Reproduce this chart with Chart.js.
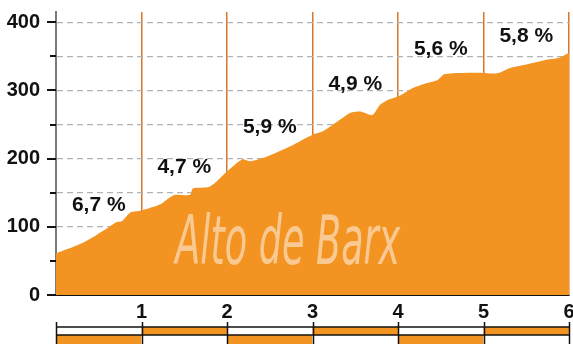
<!DOCTYPE html>
<html>
<head>
<meta charset="utf-8">
<script src="https://cdn.jsdelivr.net/npm/chart.js@4/dist/chart.umd.min.js"></script>
<style>
  html, body { margin: 0; padding: 0; background: #fff; }
  #wrap { width: 573px; height: 344px; }
</style>
</head>
<body>
<div id="wrap"><canvas id="profileChart" width="573" height="344"></canvas></div>
<script>
// Perfil del puerto: distancia (km) y altitud (m)
const distKm = [0, 0.32, 0.60, 0.71, 0.77, 0.87, 1.0, 1.22, 1.33, 1.39, 1.57, 1.60, 1.80,
                2.0, 2.18, 2.27, 2.47, 2.74, 3.0, 3.12, 3.32, 3.44, 3.56, 3.70, 3.79, 3.88,
                4.0, 4.18, 4.34, 4.46, 4.55, 4.96, 5.16, 5.31, 5.46, 5.74, 5.86, 6.0];
const elevM = [61, 77, 98, 107, 108, 121, 124, 133, 143, 147, 147, 156, 159,
               181, 199, 196, 203, 218, 235, 240, 257, 267, 269, 264, 279, 286,
               291, 304, 311, 315, 324, 326, 325, 333, 337, 345, 347, 355];
// pendiente media de cada kilómetro
const gradeLabels = ['6,7 %', '4,7 %', '5,9 %', '4,9 %', '5,6 %', '5,8 %'];
const climbName = 'Alto de Barx';

const ORANGE = '#f39322';
const KM_LINE = '#d8762c';
const FONT = "'Liberation Sans', Arial, sans-serif";

function elevAt(km) {
    for (let i = 1; i < distKm.length; i++) {
        if (km <= distKm[i]) {
            const t = (km - distKm[i - 1]) / (distKm[i] - distKm[i - 1]);
            return elevM[i - 1] + t * (elevM[i] - elevM[i - 1]);
        }
    }
    return elevM[elevM.length - 1];
}

const profileDecor = {
    id: 'profileDecor',
    afterDatasetsDraw(chart) {
        // nombre del puerto en marca de agua
        const { ctx, scales: { x, y } } = chart;
        ctx.save();
        ctx.font = "italic 68px 'Liberation Sans Narrow', 'DejaVu Sans Condensed', sans-serif";
        const w = ctx.measureText(climbName).width;
        const sx = 225 / w;
        ctx.translate(x.getPixelForValue(2.71), y.getPixelForValue(45));
        ctx.scale(sx, 1);
        ctx.fillStyle = 'rgba(255,255,255,0.5)';
        ctx.textAlign = 'center';
        ctx.textBaseline = 'alphabetic';
        ctx.fillText(climbName, 0, 0);
        ctx.restore();
    },
    afterDraw(chart) {
        const { ctx, scales: { x, y } } = chart;
        ctx.save();

        // marcas del eje Y: largas cada 100, cortas cada 50
        ctx.strokeStyle = '#111';
        ctx.lineWidth = 2;
        y.ticks.forEach(t => {
            const py = Math.round(y.getPixelForValue(t.value));
            const len = t.value % 100 === 0 ? 9 : 6;
            ctx.beginPath();
            ctx.moveTo(x.left - len, py);
            ctx.lineTo(x.left, py);
            ctx.stroke();
        });

        // pendientes por kilómetro
        ctx.fillStyle = '#111';
        ctx.font = 'bold 21px ' + FONT;
        ctx.textAlign = 'center';
        ctx.textBaseline = 'middle';
        gradeLabels.forEach((txt, k) => {
            const km = k + 0.5;
            ctx.fillText(txt, x.getPixelForValue(km), y.getPixelForValue(elevAt(km)) - 28);
        });

        // barra kilométrica inferior
        const top = 327, mid = 335, bottom = 352;
        const n = gradeLabels.length;
        for (let k = 0; k < n; k++) {
            const x0 = x.getPixelForValue(k);
            const x1 = x.getPixelForValue(k + 1);
            ctx.fillStyle = k % 2 ? ORANGE : '#fff';
            ctx.fillRect(x0, top, x1 - x0, mid - top);
            ctx.fillStyle = k % 2 ? '#fff' : ORANGE;
            ctx.fillRect(x0, mid, x1 - x0, bottom - mid);
        }
        ctx.strokeStyle = '#111';
        ctx.lineWidth = 1.5;
        const xa = x.getPixelForValue(0), xb = x.getPixelForValue(n);
        [top, mid].forEach(py => {
            ctx.beginPath();
            ctx.moveTo(xa, py);
            ctx.lineTo(xb, py);
            ctx.stroke();
        });
        for (let k = 0; k <= n; k++) {
            const px = Math.round(x.getPixelForValue(k)) + 0.5;
            ctx.beginPath();
            ctx.moveTo(px, 322);
            ctx.lineTo(px, bottom);
            ctx.stroke();
        }
        ctx.restore();
    }
};

const ctx = document.getElementById('profileChart').getContext('2d');
const profileChart = new Chart(ctx, {
    type: 'line',
    data: {
        datasets: [{
            data: distKm.map((d, i) => ({ x: d, y: elevM[i] })),
            backgroundColor: ORANGE,
            borderWidth: 0,
            pointRadius: 0,
            fill: 'origin',
            tension: 0.25
        }]
    },
    options: {
        responsive: false,
        animation: false,
        layout: { padding: { left: 0, top: 12, right: 4, bottom: 15 } },
        plugins: { legend: { display: false }, tooltip: { enabled: false } },
        scales: {
            x: {
                type: 'linear',
                min: 0,
                max: 6,
                z: 1,
                afterFit: s => { s.paddingLeft = 0; s.paddingRight = 0; },
                ticks: {
                    stepSize: 1,
                    padding: 5,
                    color: '#111',
                    font: { family: FONT, size: 20, weight: 'bold' },
                    callback: v => v === 0 ? '' : v
                },
                grid: {
                    color: c => c.tick && c.tick.value > 0 ? KM_LINE : 'rgba(0,0,0,0)',
                    lineWidth: 1.5,
                    drawTicks: false
                },
                border: { color: '#111', width: 2 }
            },
            y: {
                min: 0,
                max: 415,
                z: 1,
                afterFit: s => { s.width = 56; s.paddingTop = 0; s.paddingBottom = 0; },
                ticks: {
                    stepSize: 50,
                    includeBounds: false,
                    padding: 16,
                    color: '#111',
                    font: { family: FONT, size: 20, weight: 'bold' },
                    callback: v => v % 100 === 0 ? v : ''
                },
                grid: {
                    color: c => c.tick && c.tick.value > 0 ? '#b3b3b3' : 'rgba(0,0,0,0)',
                    lineWidth: 1.2,
                    drawTicks: false
                },
                border: { color: '#7a7a7a', width: 2, dash: [6, 4] }
            }
        }
    },
    plugins: [profileDecor]
});
</script>
</body>
</html>
